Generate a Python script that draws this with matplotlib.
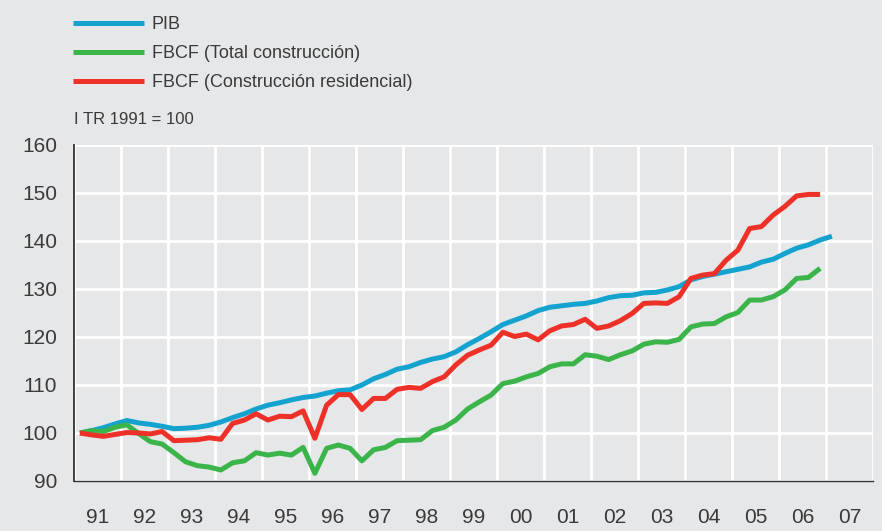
import numpy as np
import matplotlib
matplotlib.use('Agg')
import matplotlib.pyplot as plt
from matplotlib.ticker import FixedLocator, NullFormatter

plt.rcParams['font.family'] = ['Liberation Sans', 'DejaVu Sans']

# Quarterly index values, I TR 1991 = 100
pib = [100.0, 100.5, 101.1, 101.9,
       102.6, 102.1, 101.8, 101.4,
       100.9, 101.0, 101.2, 101.6,
       102.3, 103.2, 104.0, 105.0,
       105.8, 106.3, 106.9, 107.4,
       107.7, 108.3, 108.8, 109.0,
       110.0, 111.3, 112.2, 113.3,
       113.8, 114.7, 115.4, 115.9,
       116.9, 118.4, 119.7, 121.1,
       122.6, 123.5, 124.4, 125.5,
       126.2, 126.5, 126.8, 127.0,
       127.5, 128.2, 128.6, 128.7,
       129.2, 129.3, 129.8, 130.5,
       131.9, 132.6, 133.1, 133.6,
       134.1, 134.6, 135.6, 136.2,
       137.4, 138.5, 139.2, 140.2,
       141.0]

total_constr = [100.0, 100.5, 100.3, 101.2,
                101.7, 99.9, 98.2, 97.7,
                95.9, 94.0, 93.2, 92.9,
                92.3, 93.8, 94.2, 95.9,
                95.4, 95.8, 95.4, 97.0,
                91.6, 96.8, 97.5, 96.8,
                94.2, 96.5, 97.0, 98.4,
                98.5, 98.6, 100.5, 101.2,
                102.7, 105.0, 106.5, 107.9,
                110.3, 110.8, 111.7, 112.4,
                113.8, 114.4, 114.4, 116.3,
                116.0, 115.3, 116.3, 117.1,
                118.5, 119.0, 118.9, 119.5,
                122.1, 122.7, 122.8, 124.2,
                125.1, 127.7, 127.7, 128.4,
                129.8, 132.2, 132.4, 134.3]

residencial = [100.0, 99.6, 99.3, 99.7,
               100.1, 100.0, 99.8, 100.3,
               98.4, 98.5, 98.6, 99.0,
               98.7, 102.0, 102.7, 104.0,
               102.7, 103.5, 103.4, 104.6,
               98.9, 105.8, 108.0, 108.0,
               104.9, 107.2, 107.2, 109.1,
               109.5, 109.3, 110.7, 111.7,
               114.2, 116.2, 117.3, 118.3,
               121.0, 120.1, 120.6, 119.4,
               121.3, 122.3, 122.6, 123.7,
               121.8, 122.3, 123.4, 124.9,
               127.0, 127.1, 127.0, 128.4,
               132.2, 132.9, 133.2, 136.0,
               138.1, 142.6, 143.0, 145.4,
               147.2, 149.4, 149.7, 149.7]

year_labels = ['91', '92', '93', '94', '95', '96', '97', '98', '99',
               '00', '01', '02', '03', '04', '05', '06', '07']

# quarter mid-points, in years
t_pib = 1991 + (np.arange(len(pib)) + 0.5) / 4
t_tot = 1991 + (np.arange(len(total_constr)) + 0.5) / 4
t_res = 1991 + (np.arange(len(residencial)) + 0.5) / 4

bg = '#e6e7e9'
txt = '#3a3a3a'
fig = plt.figure(figsize=(8.82, 5.31), dpi=100, facecolor=bg)
ax = fig.add_axes([74/882, 1 - 481/531, 799/882, 336/531], facecolor=bg)

l1, = ax.plot(t_pib, pib, color='#14a3cf', lw=3.6, solid_capstyle='butt')
l2, = ax.plot(t_tot, total_constr, color='#3bb44a', lw=3.6, solid_capstyle='butt')
l3, = ax.plot(t_res, residencial, color='#ee3128', lw=3.6, solid_capstyle='butt')

ax.set_xlim(1991, 2008)
ax.set_ylim(90, 160)
ax.set_yticks(np.arange(90, 161, 10))
ax.xaxis.set_major_locator(FixedLocator(np.arange(1991, 2009)))
ax.xaxis.set_major_formatter(NullFormatter())
ax.xaxis.set_minor_locator(FixedLocator(np.arange(1991, 2008) + 0.5))
ax.set_xticklabels(year_labels, minor=True)
ax.tick_params(axis='both', which='both', length=0, colors=txt, labelsize=15)
ax.tick_params(axis='x', which='minor', pad=19.5)
ax.tick_params(axis='y', pad=12)

ax.grid(True, which='major', color='white', lw=2)
ax.set_axisbelow(True)
for s in ['top', 'right']:
    ax.spines[s].set_visible(False)
ax.spines['left'].set_color('#333333')
ax.spines['left'].set_linewidth(1.3)
ax.spines['bottom'].set_color('#333333')
ax.spines['bottom'].set_linewidth(1.0)

fig.legend([l1, l2, l3], ['PIB', 'FBCF (Total construcción)', 'FBCF (Construcción residencial)'],
           loc='upper left', bbox_to_anchor=(66/882, 1 - 9/531), borderaxespad=0,
           frameon=False, fontsize=13, handlelength=3.9, handletextpad=0.45,
           labelspacing=0.66, labelcolor=txt)
fig.text(74/882, 1 - 119/531, 'I TR 1991 = 100', fontsize=12, color=txt, va='center')

fig.savefig('out.png', dpi=100, facecolor=bg)
